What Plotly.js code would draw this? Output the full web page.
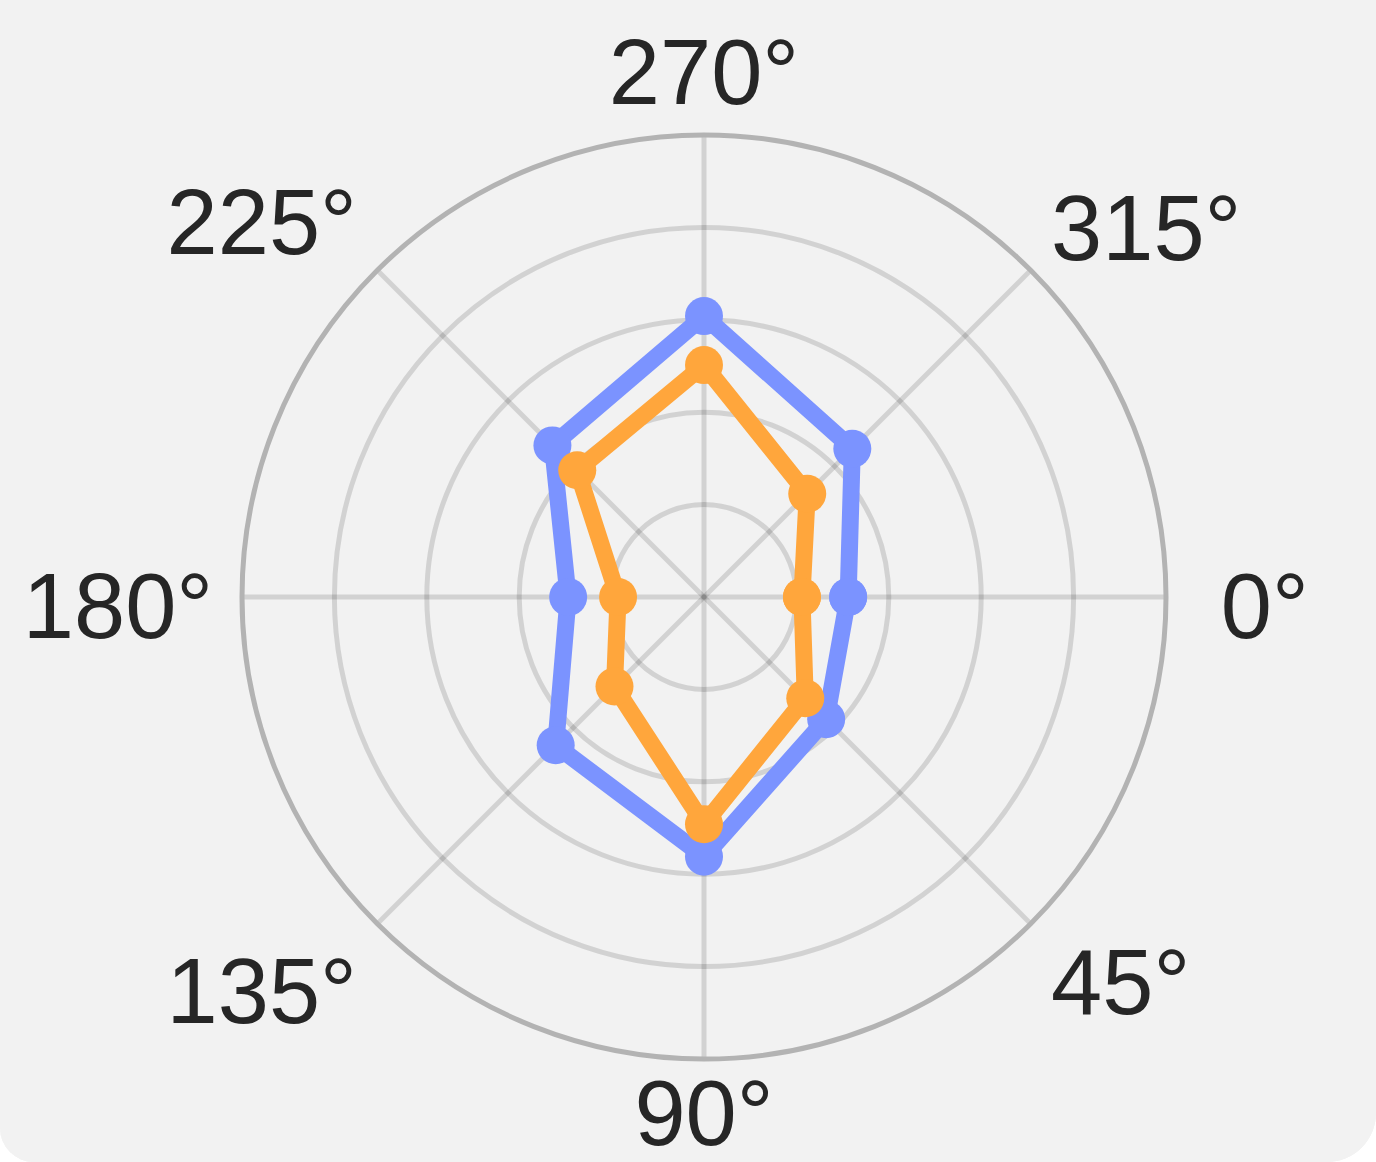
<!DOCTYPE html>
<html>
<head>
<meta charset="utf-8">
<script src="https://cdn.plot.ly/plotly-3.0.1.min.js"></script>
<style>
  html, body { margin: 0; padding: 0; background: #ffffff; }
  #wrap { width: 1376px; height: 1162px; overflow: hidden; background: #f2f2f2;
          border-radius: 0 0 49px 34px; }
  #chart { width: 1376px; height: 1162px; }
</style>
</head>
<body>
<div id="wrap"><div id="chart"></div></div>
<script>
const angles = [0, 45, 90, 135, 180, 225, 270, 315];
const angleLabels = ['0°', '45°', '90°', '135°', '180°', '225°', '270°', '315°'];
const seriesBlue = [1.56, 1.87, 2.81, 2.27, 1.47, 2.32, 3.04, 2.27];
const seriesOrange = [1.06, 1.55, 2.46, 1.37, 0.93, 1.94, 2.51, 1.58];

function closed(a) { return a.concat([a[0]]); }

// small per-label fine tuning of the tick-label placement (px; positive = up)
const labelLift = { 0: -9, 45: 18, 90: 35, 135: 9, 180: -9, 225: 6, 270: -16, 315: 0 };
// horizontal nudge (px; positive = further right), done with a leading spacer
const labelNudge = { 0: 26, 45: -20 };
const tickText = angles.map(function (a, i) {
  const lift = 'baseline-shift:' + labelLift[a] + 'px';
  let lead = '';
  if (labelNudge[a]) {
    const ls = labelNudge[a] - 25.6; // nbsp advance at 92px is ~25.6px
    lead = '<span style="' + lift + ';letter-spacing:' + ls.toFixed(1) + 'px">\u00a0</span>';
  }
  return lead + '<span style="' + lift + '">' + angleLabels[i] + '</span>';
});

const traces = [
  {
    type: 'scatterpolar', mode: 'lines+markers',
    r: closed(seriesBlue), theta: closed(angles),
    line: { color: '#7b93ff', width: 17 },
    marker: { color: '#7b93ff', size: 38 },
    showlegend: false, hoverinfo: 'none'
  },
  {
    type: 'scatterpolar', mode: 'lines+markers',
    r: closed(seriesOrange), theta: closed(angles),
    line: { color: '#ffa63c', width: 17 },
    marker: { color: '#ffa63c', size: 38 },
    showlegend: false, hoverinfo: 'none'
  }
];

const layout = {
  width: 1376, height: 1162,
  margin: { l: 242, r: 210, t: 135, b: 103, pad: 0 },
  paper_bgcolor: '#f2f2f2',
  font: { family: 'Liberation Sans, Arial, sans-serif', color: '#262626' },
  polar: {
    bgcolor: '#f2f2f2',
    domain: { x: [0, 1], y: [0, 1] },
    radialaxis: {
      range: [0, 5], dtick: 1, tick0: 0,
      showticklabels: false, ticks: '', showline: false,
      gridcolor: 'rgba(0,0,0,0.13)', gridwidth: 5, layer: 'below traces'
    },
    angularaxis: {
      rotation: 0, direction: 'clockwise',
      tickmode: 'array', tickvals: angles, ticktext: tickText,
      tickfont: { size: 92, color: '#262626', family: 'Liberation Sans, Arial, sans-serif' },
      ticks: 'outside', ticklen: 8, tickcolor: 'rgba(0,0,0,0)',
      showline: true, linecolor: '#b3b3b3', linewidth: 5,
      gridcolor: 'rgba(0,0,0,0.13)', gridwidth: 5, layer: 'below traces'
    }
  }
};

Plotly.newPlot('chart', traces, layout, { displayModeBar: false, staticPlot: true });
</script>
</body>
</html>
